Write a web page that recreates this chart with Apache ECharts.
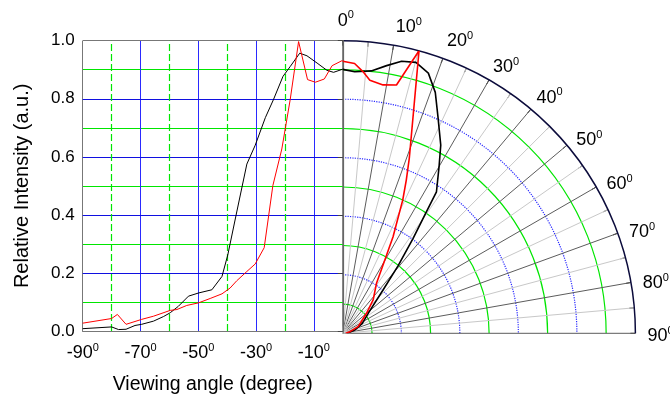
<!DOCTYPE html>
<html>
<head>
<meta charset="utf-8">
<script src="https://cdn.jsdelivr.net/npm/echarts@6/dist/echarts.min.js"></script>
<style>html,body{margin:0;padding:0;background:#fff;}#c{width:670px;height:400px;}</style>
</head>
<body>
<div id="c"></div>
<script>
// ---- data ----
const blackLeftX = [-90, -80, -77.6, -75, -71.9, -69.6, -65.5, -62, -59.7, -56.9, -53.4, -49.9, -45.3, -41.8, -39.8, -36.7, -33.2, -30.3, -26.8, -24, -20.7, -18.2, -14.9, -12.4, -8.9, -5.5, -3.2, 0];
const blackLeftY = [0.008, 0.014, 0.005, 0.006, 0.019, 0.023, 0.034, 0.05, 0.063, 0.085, 0.12, 0.131, 0.142, 0.188, 0.262, 0.41, 0.575, 0.64, 0.735, 0.797, 0.877, 0.911, 0.957, 0.948, 0.923, 0.898, 0.891, 0.902];
const redLeftX = [-90, -80, -78, -75, -69.6, -65.5, -59.7, -57.4, -54, -49.9, -45.9, -41.8, -39, -36.7, -33.2, -30.3, -27.2, -24.2, -21.1, -18.2, -15.3, -12.2, -9.5, -6.4, -3.7, -0.3, 0];
const redLeftY = [0.027, 0.043, 0.057, 0.023, 0.04, 0.051, 0.071, 0.074, 0.088, 0.097, 0.112, 0.128, 0.148, 0.173, 0.205, 0.231, 0.287, 0.501, 0.627, 0.797, 0.997, 0.866, 0.857, 0.868, 0.914, 0.931, 0.93];
const blackPolarAngle = [0, 2.6, 6.2, 9.3, 12.2, 15.1, 18.2, 21, 23.7, 27.5, 30, 33.5, 34.5, 36.5, 39.3, 42.9, 51, 63, 75, 90];
const blackPolarR = [0.902, 0.895, 0.902, 0.927, 0.951, 0.959, 0.936, 0.882, 0.809, 0.725, 0.658, 0.58, 0.505, 0.404, 0.298, 0.202, 0.115, 0.075, 0.042, 0.015];
const redPolarAngle = [0, 2.5, 4.4, 6.1, 9.2, 12.2, 15.1, 20.8, 22.5, 24.2, 27.5, 29.8, 34, 42.3, 49.8, 66.5, 77, 90];
const redPolarR = [0.93, 0.923, 0.897, 0.87, 0.86, 0.868, 1.0, 0.64, 0.567, 0.5, 0.372, 0.289, 0.206, 0.154, 0.106, 0.057, 0.025, 0.01];
const xTickLabels = [-90, -70, -50, -30, -10];
const xMinorGrid = [-80, -60, -40, -20];
const yTickLabels = ['0.0', '0.2', '0.4', '0.6', '0.8', '1.0'];
const angleTickLabels = [0, 10, 20, 30, 40, 50, 60, 70, 80, 90];
const xTitle = 'Viewing angle (degree)';
const yTitle = 'Relative Intensity (a.u.)';

const FONT = 'Liberation Sans, Arial, Helvetica, sans-serif';
const T = 'rgba(0,0,0,0)';
const GREEN = '#00e600';
const BLUE = '#2a2aff';
const CX = 342.8, CY = 333.3, R = 292.6;

const zip = (a, b) => a.map((v, i) => [v, b[i]]);
const sup = (sz) => ({
  a: { fontSize: sz, fontFamily: FONT, color: '#000', lineHeight: sz + 4 },
  s: { fontSize: Math.round(sz * 0.6), fontFamily: FONT, color: '#000', verticalAlign: 'top', lineHeight: Math.round(sz * 0.6) + 1 }
});

const chart = echarts.init(document.getElementById('c'), null, { renderer: 'canvas' });
chart.setOption({
  animation: false,
  backgroundColor: '#fff',
  grid: { left: 82.7, right: 670 - CX, top: 40.7, bottom: 400 - CY, containLabel: false },
  xAxis: [
    {
      type: 'value', min: -90, max: 0, interval: 20, position: 'bottom',
      name: xTitle, nameLocation: 'middle', nameGap: 44,
      nameTextStyle: { fontSize: 19.5, fontFamily: FONT, color: '#000' },
      axisLine: { show: true, lineStyle: { color: '#666', width: 1.2 } },
      axisTick: { show: false },
      axisLabel: {
        margin: 11, showMaxLabel: false,
        formatter: (v) => xTickLabels.indexOf(v) >= 0 ? '{a|' + v + '}{s|0}' : '',
        rich: sup(18)
      },
      splitLine: { show: true, lineStyle: { color: ['#777', BLUE, BLUE, BLUE, BLUE, '#777'], width: 1 } }
    }
  ],
  yAxis: [
    {
      type: 'value', min: 0, max: 1, interval: 0.2, z: 1,
      name: yTitle, nameLocation: 'middle', nameGap: 50,
      nameTextStyle: { fontSize: 20, fontFamily: FONT, color: '#000' },
      axisLine: { show: true, lineStyle: { color: '#666', width: 1.2 } },
      axisTick: { show: true, inside: false, length: 5, lineStyle: { color: '#444' } },
      axisLabel: {
        margin: 8, fontSize: 17, fontFamily: FONT, color: '#000',
        formatter: (v) => yTickLabels[Math.round(v * 5)]
      },
      splitLine: { show: true, lineStyle: { color: ['#777', '#1010e0', '#1010e0', '#1010e0', '#1010e0', '#777'], width: 1 } }
    },
    {
      type: 'value', min: 0, max: 1, interval: 0.1, position: 'right', z: 0,
      axisLine: { show: false }, axisTick: { show: false }, axisLabel: { show: false },
      splitLine: { show: true, lineStyle: { color: [T, GREEN, T, GREEN, T, GREEN, T, GREEN, T, GREEN, T], width: 1 } }
    }
  ],
  polar: [
    { center: [CX, CY], radius: R },
    { center: [CX, CY], radius: R }
  ],
  angleAxis: [
    {
      polarIndex: 0, type: 'value', min: 0, max: 90, interval: 5,
      startAngle: 90, endAngle: 0, clockwise: true,
      axisLine: { show: true, lineStyle: { color: '#0b0b3b', width: 1.5 } },
      axisTick: { show: true, inside: true, length: 5, lineStyle: { color: '#222' } },
      axisLabel: { show: false },
      splitLine: { show: true, lineStyle: { color: ['#5c5c5c', '#c8c8c8'], width: 1 } }
    },
    {
      polarIndex: 1, type: 'value', min: 0, max: 90,
      startAngle: 90, endAngle: 0, clockwise: true,
      axisLine: { show: false }, axisTick: { show: false }, axisLabel: { show: false }, splitLine: { show: false }
    }
  ],
  radiusAxis: [
    {
      polarIndex: 0, type: 'value', min: 0, max: 1, interval: 0.1,
      axisLine: { show: true, lineStyle: { color: '#888' } }, axisTick: { show: false }, axisLabel: { show: false },
      splitLine: { show: true, lineStyle: { color: [T, GREEN, T, GREEN, T, GREEN, T, GREEN, T, GREEN, T], width: 1.2 } }
    },
    {
      polarIndex: 1, type: 'value', min: 0, max: 1, interval: 0.2,
      axisLine: { show: false }, axisTick: { show: false }, axisLabel: { show: false },
      splitLine: { show: true, lineStyle: { color: [T, BLUE, BLUE, BLUE, BLUE, T], width: 1.2, type: 'dotted' } }
    }
  ],
  series: [
    {
      type: 'line', xAxisIndex: 0, yAxisIndex: 0, data: [], z: 1, silent: true,
      markLine: {
        silent: true, symbol: 'none', animation: false,
        label: { show: false },
        lineStyle: { color: GREEN, width: 1.2, type: [7, 3], opacity: 1 },
        data: xMinorGrid.map((v) => ({ xAxis: v }))
      }
    },
    { type: 'line', xAxisIndex: 0, yAxisIndex: 0, data: zip(blackLeftX, blackLeftY), showSymbol: false, lineStyle: { color: '#000', width: 1 }, z: 5 },
    { type: 'line', xAxisIndex: 0, yAxisIndex: 0, data: zip(redLeftX, redLeftY), showSymbol: false, lineStyle: { color: '#ff0000', width: 1 }, z: 6 },
    { type: 'line', coordinateSystem: 'polar', polarIndex: 0, data: zip(blackPolarR, blackPolarAngle), showSymbol: false, lineStyle: { color: '#000', width: 1.6 }, z: 5 },
    { type: 'line', coordinateSystem: 'polar', polarIndex: 0, data: zip(redPolarR, redPolarAngle), showSymbol: false, lineStyle: { color: '#ff0000', width: 1.6 }, z: 6 }
  ]
});

// angle labels placed just outside the outer arc, using the polar coordinate system
const c0 = chart.convertToPixel({ polarIndex: 0 }, [0, 0]);
const labels = angleTickLabels.map((a) => {
  const p = chart.convertToPixel({ polarIndex: 0 }, [1, a]);
  const dx = p[0] - c0[0], dy = p[1] - c0[1];
  const len = Math.sqrt(dx * dx + dy * dy);
  const m = 12;
  let x = p[0] + dx / len * m, y = p[1] + dy / len * m;
  let vAlign = 'middle';
  if (a === 0) { x -= 5; y += 3; vAlign = 'bottom'; }
  else if (a <= 20) { y += 5; vAlign = 'bottom'; }
  else if (a <= 40) { y -= 2; x -= 2; }
  else { y += 3; }
  return {
    type: 'text', x: x, y: y, z: 100, silent: true,
    style: { text: '{a|' + a + '}{s|0}', rich: sup(18), align: 'left', verticalAlign: vAlign }
  };
});
chart.setOption({ graphic: labels });
</script>
</body>
</html>
